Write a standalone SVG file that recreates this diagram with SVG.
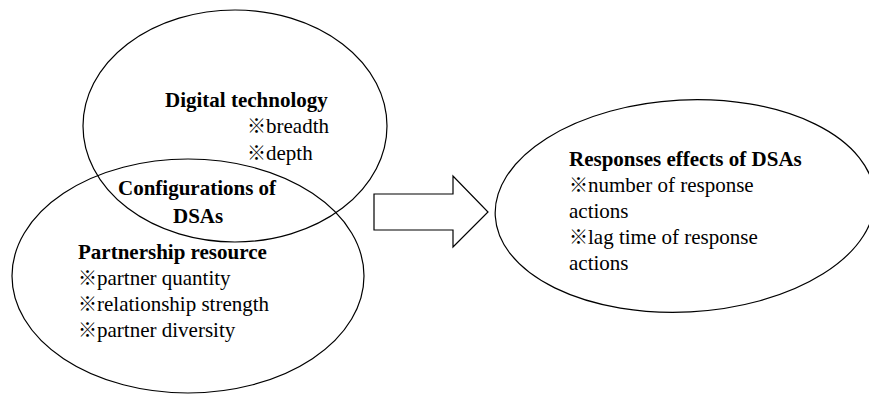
<svg xmlns="http://www.w3.org/2000/svg" width="869" height="397" viewBox="0 0 869 397">
<style>
.shape{fill:none;stroke:#000;stroke-width:1.2}
text{font-family:"Liberation Serif","Noto Sans CJK JP",serif;font-size:21px;fill:#000}
.b{font-weight:bold}
.m{font-family:"Noto Sans CJK JP","Liberation Serif",sans-serif;font-size:19px}
</style>
<rect width="869" height="397" fill="#fff"/>
<g id="digital-technology">
<ellipse class="shape" cx="235" cy="126" rx="152" ry="116"/>
<text class="b" x="165" y="107">Digital technology</text>
<text x="247" y="133"><tspan class="m">※</tspan>breadth</text>
<text x="247" y="160"><tspan class="m">※</tspan>depth</text>
</g>
<g id="partnership-resource">
<ellipse class="shape" cx="188" cy="276" rx="176" ry="117"/>
<text class="b" x="78" y="259">Partnership resource</text>
<text x="78" y="285"><tspan class="m">※</tspan>partner quantity</text>
<text x="78" y="311"><tspan class="m">※</tspan>relationship strength</text>
<text x="78" y="337"><tspan class="m">※</tspan>partner diversity</text>
</g>
<g id="configurations">
<text class="b" x="118" y="195">Configurations of</text>
<text class="b" x="173" y="223">DSAs</text>
</g>
<g id="connectors">
<polygon class="shape" points="374,194 453,194 453,176 488,212 453,247 453,230 374,230"/>
</g>
<g id="responses-effects">
<ellipse class="shape" cx="685" cy="206" rx="190" ry="106" transform="rotate(-3 685 206)"/>
<text class="b" x="569" y="166">Responses effects of DSAs</text>
<text x="569" y="192"><tspan class="m">※</tspan>number of response</text>
<text x="569" y="218">actions</text>
<text x="569" y="244"><tspan class="m">※</tspan>lag time of response</text>
<text x="569" y="270">actions</text>
</g>
</svg>
